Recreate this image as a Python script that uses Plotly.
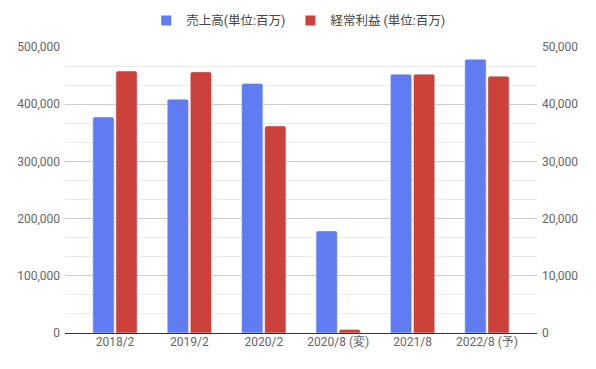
import plotly.graph_objects as go

categories = ["2018/2", "2019/2", "2020/2", "2020/8 (変)", "2021/8", "2022/8 (予)"]
sales = [377500, 408800, 436100, 178500, 452400, 478500]
profit = [45800, 45650, 36200, 630, 45250, 44900]
sales_name = "売上高(単位:百万)"
profit_name = "経常利益 (単位:百万)"
left_ticks = [0, 100000, 200000, 300000, 400000, 500000]
right_ticks = [0, 10000, 20000, 30000, 40000, 50000]

FONT = "Roboto, 'Noto Sans CJK JP', sans-serif"
BLUE = "#5f7cf2"
RED = "#cc4139"
TXT = "#666666"

fig = go.Figure()
fig.add_trace(go.Bar(x=categories, y=sales, name=sales_name, marker_color=BLUE,
                     offsetgroup="a", yaxis="y", showlegend=False))
fig.add_trace(go.Bar(x=categories, y=profit, name=profit_name, marker_color=RED,
                     offsetgroup="b", yaxis="y2", showlegend=False))
# legend entries with square swatches
for nm, col in [(sales_name, BLUE), (profit_name, RED)]:
    fig.add_trace(go.Scatter(x=[None], y=[None], mode="markers", name=nm,
                             marker=dict(symbol="square", size=10, color=col)))

fig.update_layout(
    width=596, height=369,
    margin=dict(l=57, r=67, t=39, b=44, autoexpand=False),
    paper_bgcolor="white", plot_bgcolor="white",
    font=dict(family=FONT, size=12, color=TXT),
    barmode="group", bargap=0.38, bargroupgap=0.08, barcornerradius=2,
    showlegend=True,
    legend=dict(orientation="h", x=0.487, xanchor="center", xref="container",
                y=0.965, yanchor="middle", yref="container",
                font=dict(size=12.5, color="#444"),
                itemwidth=30),
    xaxis=dict(type="category", range=[-0.672, 5.672], showgrid=False,
               showline=False, ticks="", automargin=False,
               tickfont=dict(size=12, color=TXT)),
    yaxis=dict(range=[0, 500000], tickvals=left_ticks,
               ticktext=[f"{v:,}" for v in left_ticks],
               showgrid=True, gridcolor="#cccccc", gridwidth=1,
               minor=dict(dtick=100000/3, showgrid=True, gridcolor="#ebebeb", gridwidth=1),
               zeroline=True, zerolinecolor="#333333", zerolinewidth=1,
               showline=False, ticks="", ticklabelstandoff=4, automargin=False,
               tickfont=dict(size=12, color=TXT)),
    yaxis2=dict(range=[0, 50000], tickvals=right_ticks,
                ticktext=[f"{v:,}" for v in right_ticks],
                overlaying="y", side="right", showgrid=False, zeroline=False,
                showline=False, ticks="", ticklabelstandoff=4, automargin=False,
                tickfont=dict(size=12, color=TXT)),
)

fig.write_html("out.html")
